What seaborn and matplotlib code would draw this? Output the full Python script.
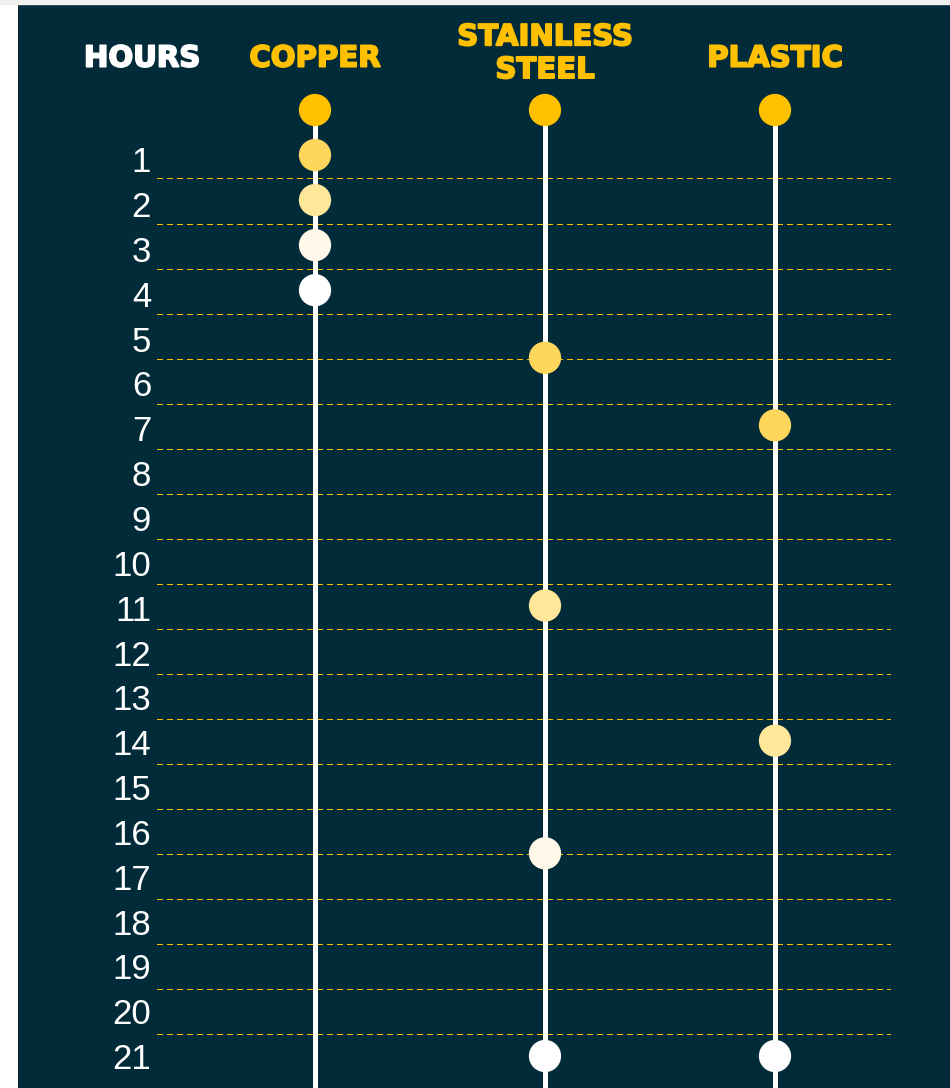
import pandas as pd
import matplotlib.pyplot as plt
import matplotlib.patheffects as pe
import seaborn as sns
from matplotlib.patches import Rectangle

# %% data
materials = ["COPPER", "STAINLESS\nSTEEL", "PLASTIC"]
copper_hours = [0, 1, 2, 3, 4]
steel_hours = [0, 5.5, 11, 16.5, 21]
plastic_hours = [0, 7, 14, 21]
copper_shades = ["#FFC000", "#FFD65C", "#FFE699", "#FFF8E8", "#FFFFFF"]
steel_shades = ["#FFC000", "#FFD65C", "#FFE699", "#FFF8E8", "#FFFFFF"]
plastic_shades = ["#FFC000", "#FFD65C", "#FFE699", "#FFFFFF"]
hour_labels = list(range(1, 22))

navy = "#022b3a"
gold = "#FFC000"

# long table for seaborn
rows = []
for pos, (hrs, shades) in enumerate(
    [(copper_hours, copper_shades), (steel_hours, steel_shades), (plastic_hours, plastic_shades)], start=1
):
    for h, c in zip(hrs, shades):
        rows.append({"material": pos, "hour": h, "shade": c})
dots_df = pd.DataFrame(rows)

# %% plot
sns.set_style("white", {"axes.facecolor": navy})

fig = plt.figure(figsize=(9.5, 10.88), dpi=100, facecolor="white")
ax = fig.add_axes([18 / 950, 0, 932 / 950, 1084 / 1088])
fig.patches.append(Rectangle((0, 1084 / 1088), 1, 4 / 1088, transform=fig.transFigure,
                             color="#f0f0f0", zorder=0))

# dashed separators between hours
sep_y = [h + 0.52 for h in hour_labels[:-1]]
ax.hlines(sep_y, 0.313, 3.5, colors=gold, linewidth=0.9,
          linestyles=(0, (4.5, 3.6)), antialiased=False, zorder=1)

# white stems from the start dot down past the bottom
for pos in range(1, len(materials) + 1):
    ax.vlines(pos, 0, 23, colors="white", linewidth=3.6, zorder=2)

sns.scatterplot(
    data=dots_df, x="material", y="hour", hue="shade",
    palette={c: c for c in dots_df["shade"].unique()},
    s=540, edgecolor="none", legend=False, ax=ax, zorder=3,
)

# hour labels on the left
for h in hour_labels:
    ax.text(0.287, h + 0.17 - 0.0045 * (h - 1), str(h), ha="right", va="center",
            color="white", fontsize=25, family="Liberation Sans")

# column headers, stroked a little to look heavier
head_kw = dict(ha="center", va="center", fontsize=21, fontweight="bold",
               family="DejaVu Sans", linespacing=1.22)
ax.text(0.248, -1.14, "HOURS", color="white",
        path_effects=[pe.withStroke(linewidth=1.3, foreground="white")], **head_kw)
for pos, name in enumerate(materials, start=1):
    ax.text(pos, -1.25 if "\n" in name else -1.14, name, color=gold,
            path_effects=[pe.withStroke(linewidth=1.3, foreground=gold)], **head_kw)

ax.set_xlim(-0.2913, 3.761)
ax.set_ylim(21.71, -2.353)
ax.set_xticks([])
ax.set_yticks([])
ax.set_xlabel("")
ax.set_ylabel("")
sns.despine(ax=ax, left=True, bottom=True)

fig.savefig("out.png", dpi=100)
